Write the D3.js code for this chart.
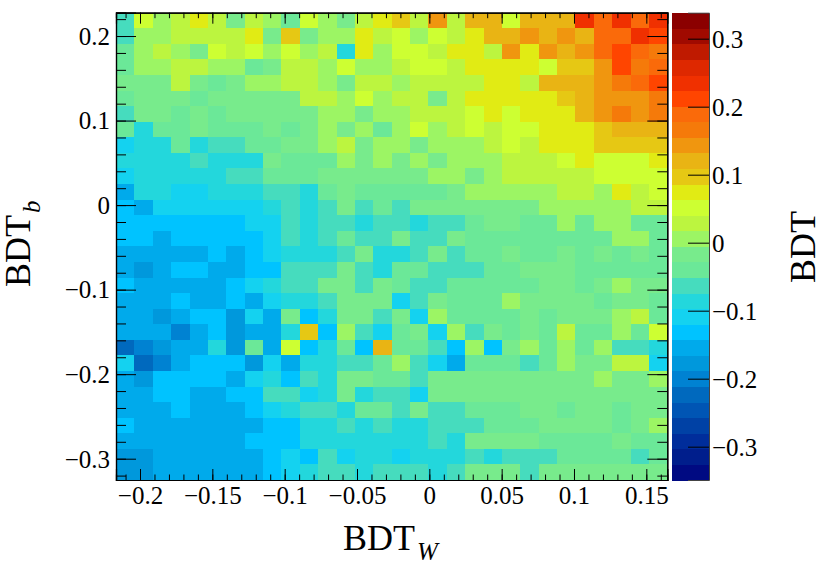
<!DOCTYPE html>
<html><head><meta charset="utf-8">
<style>
html,body{margin:0;padding:0;background:#fff}
svg{display:block}
text{font-family:"Liberation Serif","Times New Roman",serif;fill:#000}
.axis path{stroke:#000;stroke-width:1.2px;fill:none}
.axis line{stroke:#000;stroke-width:1px}
</style>
<script src="https://cdn.jsdelivr.net/npm/d3@7"></script>
</head><body>
<svg id="c" width="830" height="563"></svg>
<script>
// BDT value (x100) per bin. Rows run top to bottom, columns left to right.
const gridValues = [
[-6,5,1,3,8,3,-2,3,1,-4,5,1,-2,3,8,10,3,14,3,12,12,5,12,12,12,24,19,24,19,24],
[-6,1,1,3,3,3,3,8,-2,10,-2,1,1,8,3,5,1,5,3,8,12,12,14,12,14,12,19,19,24,21],
[-4,1,3,1,-2,5,3,5,1,5,1,3,-9,8,1,5,5,3,8,8,3,14,8,14,12,14,19,21,19,17],
[-4,1,1,3,3,1,1,-4,-2,3,3,1,5,1,1,3,5,5,3,8,8,8,8,5,10,10,14,21,17,19],
[-2,-2,-2,3,-2,-4,-2,1,1,3,3,1,-2,3,3,1,3,3,3,3,8,8,3,12,12,12,14,17,19,21],
[-4,-2,-2,-2,-4,-2,-2,-2,-2,-2,3,3,1,5,1,3,3,-2,3,8,8,8,8,8,10,12,14,14,14,17],
[-6,-2,-2,-4,-2,-4,-2,-2,-2,-2,-2,1,1,-2,1,1,3,3,3,5,8,5,8,8,8,12,14,17,14,17],
[-4,-9,-4,-4,-2,-4,-4,-4,-2,-4,-2,1,-2,1,-4,1,5,1,3,5,3,5,5,8,8,8,10,12,12,12],
[-11,-9,-9,-4,-9,-6,-6,-4,-4,-2,-2,1,3,-2,1,1,-2,1,1,1,3,5,3,8,8,8,10,10,10,10],
[-9,-9,-9,-9,-6,-9,-9,-9,-2,-4,-4,-4,1,-2,1,-2,1,-2,1,1,1,3,3,3,5,8,5,5,5,8],
[-11,-9,-9,-9,-9,-9,-6,-6,-4,-4,-4,-2,-2,-2,-2,-2,-2,1,1,-2,1,3,3,3,3,3,5,5,5,5],
[-15,-9,-9,-11,-11,-9,-9,-9,-6,-6,-9,-4,-2,-4,-4,-4,-4,-4,-2,1,1,1,1,1,3,3,1,8,3,5],
[-13,-15,-11,-11,-11,-11,-11,-11,-9,-6,-9,-6,-2,-6,-4,-6,-2,-2,-2,-2,-2,-2,-2,1,1,1,1,1,3,3],
[-13,-13,-13,-13,-13,-13,-13,-11,-11,-6,-9,-6,-6,-9,-6,-6,-9,-6,-6,-4,-2,-2,-4,-4,1,-4,1,1,-4,-4],
[-13,-13,-15,-13,-13,-13,-13,-13,-11,-6,-9,-6,-4,-6,-6,-2,-6,-6,-2,-4,-4,-4,-4,-4,-4,-4,-4,1,1,-4],
[-15,-15,-15,-15,-15,-13,-15,-13,-11,-9,-9,-9,-6,-2,-9,-9,-6,-2,-6,-4,-4,-2,-4,-4,-2,-4,-2,-4,-2,-4],
[-15,-18,-15,-13,-13,-15,-15,-13,-13,-6,-6,-6,-2,-6,-9,-4,-4,-6,-6,-6,-4,-4,-2,-2,-2,-4,-4,-4,-4,-4],
[-13,-15,-15,-15,-15,-15,-13,-11,-9,-6,-6,-2,-2,-6,-2,-4,-6,-6,-4,-4,-4,-4,-4,-2,-2,-4,-2,1,-2,-2],
[-15,-15,-15,-13,-15,-15,-13,-15,-11,-9,-9,-6,-2,-2,-2,-11,-6,-2,-4,-4,-4,1,-2,-2,-2,-2,-4,-2,-2,-4],
[-15,-15,-18,-15,-13,-13,-18,-11,-15,-2,-13,-9,-2,-2,-6,-2,-11,1,-4,-4,-4,-4,-2,-4,-2,-2,-2,1,3,-4],
[-15,-15,-15,-20,-15,-13,-18,-15,-15,-9,10,-13,1,-6,-11,-4,-2,-11,1,-6,-2,-4,-2,-4,3,-4,-4,1,-4,5],
[-22,-20,-18,-15,-15,-9,-18,-4,-15,5,-13,-9,-4,-13,12,-4,-4,-6,-13,1,-13,-2,1,-4,1,-4,1,-6,-6,-9],
[-11,-22,-20,-15,-13,-13,-13,-18,-11,-15,-9,-9,-6,-6,-4,1,-6,-11,-15,-4,-4,-4,-6,-4,1,-2,-2,3,3,-11],
[-15,-18,-13,-13,-13,-13,-15,-11,-9,-13,-6,-9,-2,-2,-4,-4,-6,-2,-2,-2,-2,-2,-2,-2,-2,-2,1,-2,-2,1],
[-15,-15,-13,-13,-15,-15,-13,-13,-6,-6,-11,-9,-2,-9,-6,-6,-11,-2,-2,-2,-2,-2,-2,-2,-2,-2,-2,-2,-2,-2],
[-15,-15,-15,-13,-15,-15,-15,-13,-11,-9,-6,-6,-9,-4,-4,-6,-2,-6,-6,-4,-4,-4,-2,-2,-4,-2,-2,-4,-2,-2],
[-13,-15,-15,-15,-15,-15,-15,-15,-13,-13,-9,-9,-6,-9,-6,-9,-9,-6,-6,-6,-4,-4,-4,-2,-2,-2,-2,-4,-2,1],
[-15,-15,-15,-15,-15,-15,-15,-13,-13,-13,-9,-9,-9,-9,-9,-9,-9,-6,-9,-2,-2,-2,-2,-4,-4,-4,-4,-2,-4,-4],
[-18,-18,-15,-15,-15,-15,-15,-15,-13,-11,-13,-6,-11,-9,-9,-11,-9,-9,-9,-6,-9,-6,-6,-6,-4,-4,-4,-4,-6,-4],
[-18,-18,-15,-15,-15,-15,-15,-15,-13,-11,-9,-6,-6,-9,-6,-6,-6,-9,-6,-2,-2,-2,-6,-2,-2,-2,-2,-2,-2,-2]
];
const xTicks = [-0.2,-0.15,-0.1,-0.05,0,0.05,0.1,0.15];
const yTicks = [-0.3,-0.2,-0.1,0,0.1,0.2];
const zTicks = [-0.3,-0.2,-0.1,0,0.1,0.2,0.3];
const xMinorTicks = d3.range(-21,17).map(d=>d/100);
const yMinorTicks = d3.range(-16,12).map(d=>d/50);
const xDomain = [-0.2166,0.1645];
const yDomain = [-0.3252,0.2276];
const zDomain = [-0.349,0.3382];
// Colour bands, lowest to highest
const palette = ["#000a82","#001e8c","#002d9b","#0041a5","#0055b4","#0069be","#0082d2","#0098dc","#00aaeb","#00c3ff",
"#14d2f0","#23d7dc","#46dcbe","#6be898","#78eb8c","#9cf564","#bcf53f","#cdff32","#e1eb14","#e6c814",
"#e9b414","#f0960f","#f57a0a","#fa6a0a","#ff4500","#f03000","#de2800","#bf1a00","#a00a00","#8b0000"];

const L=116,R=667.3,T=12.7,B=480,CL=671.5,CR=709;
const svg=d3.select("#c");
const x=d3.scaleLinear().domain(xDomain).range([L,R]);
const y=d3.scaleLinear().domain(yDomain).range([B,T]);
const z=d3.scaleLinear().domain(zDomain).range([B,T]);
const color=d3.scaleQuantize().domain(zDomain).range(palette);
const col=d3.scaleBand().domain(d3.range(30)).range([L,R]);
const row=d3.scaleBand().domain(d3.range(30)).range([T,B]);

svg.append("g").attr("shape-rendering","crispEdges").selectAll("g").data(gridValues).join("g")
 .each(function(r,i){
  d3.select(this).selectAll("rect").data(r).join("rect")
   .attr("x",(d,j)=>col(j)).attr("y",row(i))
   .attr("width",col.bandwidth()+0.5).attr("height",row.bandwidth()+0.5)
   .attr("fill",d=>color(d/100));
 });

// Colour bar
const zBand=d3.scaleBand().domain(d3.range(30)).range([B,T]);
svg.append("g").attr("shape-rendering","crispEdges").selectAll("rect").data(palette).join("rect")
 .attr("x",CL).attr("width",CR-CL)
 .attr("y",(d,i)=>zBand(i)).attr("height",zBand.bandwidth()+0.5)
 .attr("fill",d=>d);

const fmt=d=>d3.format("~g")(d);
function ax(gen,tr,cls){
 const g=svg.append("g").attr("class","axis").attr("transform",tr).call(gen);
 g.selectAll("text").style("font-size","25px").attr("fill","#000");
 return g;
}
// minor ticks
ax(d3.axisBottom(x).tickValues(xMinorTicks).tickSize(-5.5).tickFormat(""),`translate(0,${B})`);
ax(d3.axisTop(x).tickValues(xMinorTicks).tickSize(-5.5).tickFormat(""),`translate(0,${T})`);
ax(d3.axisLeft(y).tickValues(yMinorTicks).tickSize(-10).tickFormat(""),`translate(${L},0)`);
ax(d3.axisRight(y).tickValues(yMinorTicks).tickSize(-10).tickFormat(""),`translate(${R},0)`);
// major ticks
const gx=ax(d3.axisBottom(x).tickValues(xTicks).tickSize(-11).tickPadding(0).tickFormat(fmt),`translate(0,${B})`);
gx.selectAll("text").attr("dy",null).attr("y",24);
ax(d3.axisTop(x).tickValues(xTicks).tickSize(-11).tickFormat(""),`translate(0,${T})`);
const gy=ax(d3.axisLeft(y).tickValues(yTicks).tickSize(-20).tickPadding(0).tickFormat(fmt),`translate(${L},0)`);
gy.selectAll("text").attr("x",-6).attr("dy",null).attr("y",8.3);
ax(d3.axisRight(y).tickValues(yTicks).tickSize(-20).tickFormat(""),`translate(${R},0)`);
const gz=ax(d3.axisRight(z).tickValues(zTicks).tickSize(-21).tickPadding(0).tickFormat(fmt),`translate(${CR},0)`);
gz.selectAll("text").attr("x",3).attr("dy",null).attr("y",8.5);
gz.select("path").style("stroke","#444").style("stroke-width","1px");

// Titles: main text and subscript as separate elements
function title(tr,main){
 svg.append("text").attr("transform",tr).style("font-size","36px").text(main);
}
function sub(tr,s){
 svg.append("text").attr("transform",tr).style("font-size","25px").style("font-style","italic").text(s);
}
title("translate(343,550)","BDT");
sub("translate(417,560)","W");
title("translate(30,287) rotate(-90)","BDT");
sub("translate(40,213) rotate(-90)","b");
title("translate(815,283) rotate(-90)","BDT");
</script>
</body></html>
